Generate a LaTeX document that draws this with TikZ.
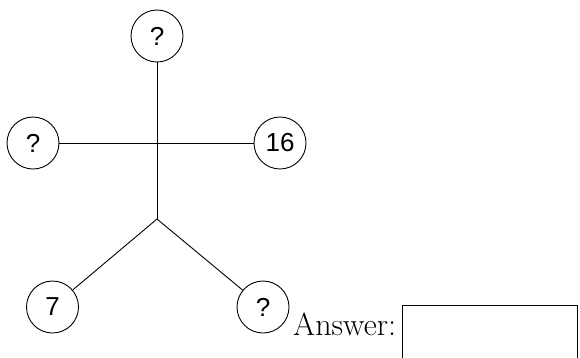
\documentclass[tikz,border=0pt]{standalone}
\usepackage{fontspec}
\newfontfamily\numfont{Liberation Sans}
\begin{document}
\begin{tikzpicture}[x=1pt,y=-1pt,
  ball/.style={circle,draw,line width=0.9pt,minimum size=52pt,inner sep=0pt,font=\numfont\fontsize{26}{30}\selectfont},
  wire/.style={line width=0.9pt}]
\useasboundingbox (0,0) rectangle (580,357);
\node[ball] (top) at (157,36) {?};
\node[ball] (left) at (33,143) {?};
\node[ball] (right) at (280,143) {16};
\node[ball] (bl) at (52.5,307) {7};
\node[ball] (br) at (263,307) {?};
\coordinate (j) at (157,219);
\draw[wire] (top) -- (j);
\draw[wire] (left) -- (right);
\draw[wire] (j) -- (bl);
\draw[wire] (j) -- (br);
\node[anchor=base west,inner sep=0pt,font=\fontsize{32}{38}\selectfont] (ans) at (293,335) {Answer:};
\draw[line width=0.9pt] (402,358) -- (402,305) -- (577,305) -- (577,358);
\end{tikzpicture}
\end{document}
